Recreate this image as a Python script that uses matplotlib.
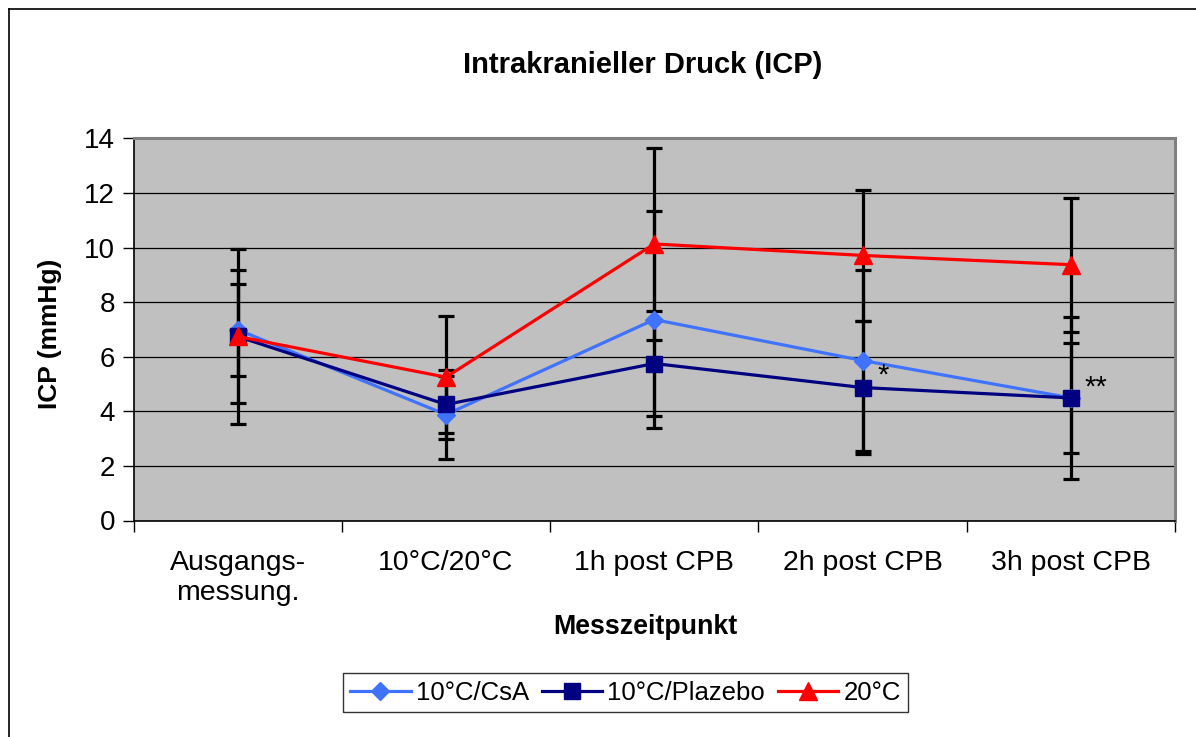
import matplotlib
matplotlib.use("Agg")
import matplotlib.pyplot as plt
from matplotlib.lines import Line2D
import numpy as np

plt.rcParams['font.family'] = ['Liberation Sans', 'DejaVu Sans']

categories = ["Ausgangs-\nmessung.", "10°C/20°C", "1h post CPB", "2h post CPB", "3h post CPB"]
series_names = ["10°C/CsA", "10°C/Plazebo", "20°C"]

csa_mean = [6.99, 3.88, 7.36, 5.86, 4.49]
csa_sd = [1.69, 1.63, 3.96, 3.31, 2.00]
plazebo_mean = [6.74, 4.25, 5.75, 4.87, 4.49]
plazebo_sd = [2.43, 1.05, 1.91, 2.43, 2.97]
warm_mean = [6.74, 5.25, 10.13, 9.71, 9.37]
warm_sd = [3.20, 2.25, 3.53, 2.41, 2.45]

y_ticks = [0, 2, 4, 6, 8, 10, 12, 14]

W, H = 1196, 737
fig = plt.figure(figsize=(W / 100, H / 100), dpi=100)
ax = fig.add_axes([133.5 / W, 1 - 520.5 / H, (1175 - 133.5) / W, (520.5 - 138.3) / H])
ax.set_facecolor('#C0C0C0')

x = np.arange(len(categories))
styles = [
    (csa_mean, csa_sd, '#3F72FF', 'D', 9.5),
    (plazebo_mean, plazebo_sd, '#000080', 's', 11.5),
    (warm_mean, warm_sd, '#FF0000', '^', 12.5),
]

# error bars first, lines and markers on top
for mean, sd, col, mk, ms in styles:
    ax.errorbar(x, mean, yerr=sd, fmt='none', ecolor='black', elinewidth=2.3,
                capsize=6, capthick=2.3, zorder=3)
handles = []
for (mean, sd, col, mk, ms), name in zip(styles, series_names):
    ln, = ax.plot(x, mean, color=col, lw=2.3, marker=mk, markersize=ms,
                  markerfacecolor=col, markeredgecolor=col, zorder=4, label=name)
    handles.append(ln)

# significance marks
ax.text(3 + 0.098, 5.30, '*', fontsize=21, ha='center', va='center', zorder=5)
ax.text(4 + 0.12, 4.86, '**', fontsize=21, ha='center', va='center', zorder=5)

ax.set_xlim(-0.5, 4.5)
ax.set_ylim(0, 14)
ax.set_yticks(y_ticks)
ax.yaxis.grid(True, color='black', lw=0.9, zorder=1)
ax.set_axisbelow(True)
ax.tick_params(axis='y', direction='out', length=8, width=1, labelsize=20, pad=5.4)
ax.set_xticks(np.arange(-0.5, 5.0, 1.0), minor=False)
ax.set_xticklabels([])
ax.set_xticks(x, minor=True)
ax.set_xticklabels(categories, minor=True, fontsize=20.5, linespacing=1.2)
ax.tick_params(axis='x', which='major', direction='out', length=8, width=1)
ax.tick_params(axis='x', which='minor', length=0, pad=21.5)

for side in ['left', 'bottom']:
    ax.spines[side].set_color('black')
    ax.spines[side].set_linewidth(1.2)
for side in ['top', 'right']:
    ax.spines[side].set_color('#808080')
    ax.spines[side].set_linewidth(2.2)

fig.text(643 / W, 1 - 73.3 / H, 'Intrakranieller Druck (ICP)', fontsize=21,
         fontweight='bold', ha='center', va='baseline')
fig.text(50 / W, 1 - 334 / H, 'ICP (mmHg)', fontsize=19, fontweight='bold',
         rotation=90, ha='center', va='center')
fig.text(645 / W, 1 - 627 / H, 'Messzeitpunkt', fontsize=19.3, fontweight='bold',
         ha='center', va='center')

leg = fig.legend(handles=handles, loc='center', bbox_to_anchor=(625.5 / W, 1 - 692.5 / H),
                 ncol=3, fontsize=18.5, frameon=True, fancybox=False, handlelength=2.35,
                 handletextpad=0.2, columnspacing=0.5, borderpad=0.3)
leg.get_frame().set_edgecolor('black')
leg.get_frame().set_linewidth(1.0)

# outer frame (left and top edges)
fig.add_artist(Line2D([8.5 / W, 8.5 / W], [0, 1 - 8.5 / H], color='black', lw=1.2))
fig.add_artist(Line2D([8.5 / W, 1], [1 - 8.5 / H, 1 - 8.5 / H], color='black', lw=1.2))

fig.savefig('out.png', dpi=100)
